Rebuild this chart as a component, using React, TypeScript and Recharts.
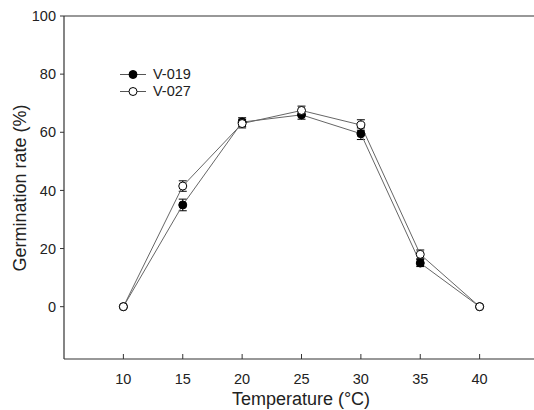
import React from "react";
import { LineChart, Line, XAxis, YAxis, ErrorBar, ReferenceLine } from "recharts";

const temps = [10, 15, 20, 25, 30, 35, 40];
const v019 = [0, 35, 63.5, 66, 59.5, 15, 0];
const v019Err = [0, 2, 1.5, 1.5, 2, 1.2, 0];
const v027 = [0, 41.5, 63, 67.5, 62.5, 18, 0];
const v027Err = [0, 1.8, 1.5, 1.5, 1.8, 1.5, 0];
const xTicks = [10, 15, 20, 25, 30, 35, 40];
const yTicks = [0, 20, 40, 60, 80, 100];
const seriesNames = ["V-019", "V-027"];

const data = temps.map((t, i) => ({
  t,
  a: v019[i],
  ae: v019Err[i],
  b: v027[i],
  be: v027Err[i],
}));

const FONT = "'Liberation Sans', Arial, sans-serif";

const XTick = (props: any) => {
  const { x, y, payload } = props;
  return (
    <g>
      <line x1={x} x2={x} y1={y} y2={y - 5} stroke="#333" strokeWidth={1} />
      <text x={x} y={y + 25} textAnchor="middle" fontSize={14.5} fill="#222" fontFamily={FONT}>
        {payload.value}
      </text>
    </g>
  );
};

const YLabel = () => (
  <text
    x={26}
    y={188}
    transform="rotate(-90 26 188)"
    textAnchor="middle"
    fontSize={18}
    fill="#222"
    fontFamily={FONT}
  >
    Germination rate (%)
  </text>
);

const XLabel = () => (
  <text x={301} y={405} textAnchor="middle" fontSize={18} fill="#222" fontFamily={FONT}>
    Temperature (°C)
  </text>
);

const LegendBox = () => (
  <div
    style={{
      position: "absolute",
      left: 118,
      top: 66,
      fontFamily: FONT,
      fontSize: 14.5,
      color: "#222",
      lineHeight: "17px",
    }}
  >
    {seriesNames.map((name, i) => (
      <div key={name} style={{ display: "flex", alignItems: "center", height: 17 }}>
        <svg width={35} height={17} style={{ display: "block" }}>
          <line x1={2} x2={28} y1={8.5} y2={8.5} stroke="#555" strokeWidth={1} />
          <circle cx={15} cy={8.5} r={4} fill={i === 0 ? "#000" : "#fff"} stroke="#000" strokeWidth={1} />
        </svg>
        <span>{name}</span>
      </div>
    ))}
  </div>
);

export default function App() {
  return (
    <div
      style={{
        position: "fixed",
        left: 0,
        top: 0,
        width: 534,
        height: 410,
        overflow: "hidden",
        background: "#fff",
      }}
    >
      <LineChart
        width={539}
        height={410}
        data={data}
        margin={{ top: 16, right: 0, left: 0, bottom: 0 }}
      >
        <XAxis
          dataKey="t"
          type="number"
          domain={[5, 45]}
          ticks={xTicks}
          tick={<XTick />}
          tickLine={false}
          tickSize={0}
          tickMargin={0}
          axisLine={{ stroke: "#333", strokeWidth: 1.2 }}
          height={51}
          label={<XLabel />}
        />
        <YAxis
          type="number"
          domain={[-18, 100]}
          ticks={yTicks}
          width={64}
          tickSize={4}
          tickMargin={4}
          tickLine={{ stroke: "#333" }}
          axisLine={{ stroke: "#333", strokeWidth: 1.2 }}
          tick={{ fontFamily: FONT, fontSize: 14.5, fill: "#222" }}
          label={<YLabel />}
        />
        <ReferenceLine y={100} stroke="#333" strokeWidth={1.2} />
        <Line
          dataKey="a"
          name={seriesNames[0]}
          stroke="#666"
          strokeWidth={1}
          isAnimationActive={false}
          dot={{ r: 4, fill: "#000", stroke: "#000", strokeWidth: 1 }}
        >
          <ErrorBar dataKey="ae" width={4} stroke="#000" strokeWidth={1} direction="y" />
        </Line>
        <Line
          dataKey="b"
          name={seriesNames[1]}
          stroke="#666"
          strokeWidth={1}
          isAnimationActive={false}
          dot={{ r: 4, fill: "#fff", stroke: "#000", strokeWidth: 1 }}
        >
          <ErrorBar dataKey="be" width={4} stroke="#000" strokeWidth={1} direction="y" />
        </Line>
      </LineChart>
      <LegendBox />
    </div>
  );
}
